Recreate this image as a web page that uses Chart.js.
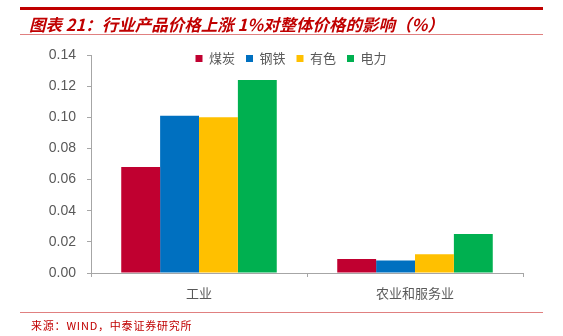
<!DOCTYPE html>
<html>
<head>
<meta charset="utf-8">
<script src="https://cdn.jsdelivr.net/npm/chart.js@4"></script>
<style>
body { margin: 0; background: #fff; }
#wrap { position: relative; width: 563px; height: 336px; overflow: hidden; }
#chart { position: absolute; left: 0; top: 0; }
.topline { position: absolute; left: 20px; width: 523px; top: 7px; height: 3px; background: #C00000; }
.thin { position: absolute; left: 20px; width: 523px; height: 1px; background: #E08080; }
#title { position: absolute; left: 29px; top: 12px; font: italic bold 16.5px "Noto Sans CJK SC", sans-serif; color: #C00000; white-space: nowrap; }
#source { position: absolute; left: 31px; top: 317px; font: 11px "Noto Sans CJK SC", monospace; color: #C00000; white-space: nowrap; letter-spacing: 0.8px; }
</style>
</head>
<body>
<div id="wrap">
  <canvas id="chart" width="563" height="336"></canvas>
  <div class="topline"></div>
  <div id="title">图表 21：行业产品价格上涨 1%对整体价格的影响（%）</div>
  <div class="thin" style="top:34px"></div>
  <div class="thin" style="top:312px"></div>
  <div id="source">来源：WIND，中泰证券研究所</div>
</div>
<script>
// categories and series
let categories = ['工业', '农业和服务业'];
let coal = [0.068, 0.009];
let steel = [0.101, 0.008];
let metals = [0.100, 0.012];
let power = [0.124, 0.025];
let seriesNames = ['煤炭', '钢铁', '有色', '电力'];
let seriesColors = ['#C00030', '#0070C0', '#FFC000', '#00B050'];

let allData = [coal, steel, metals, power];
let datasets = [];
allData.forEach((d, i) => {
    datasets.push({
        label: seriesNames[i],
        data: d,
        backgroundColor: seriesColors[i],
        borderWidth: 0,
        barPercentage: 1,
        categoryPercentage: 0.72
    });
});

// legend sits over the top of the plot: reserve little room for it in layout,
// then give it back its real height (and nudge it right) before drawing
const legendFix = {
    id: 'legendFix',
    afterInit(chart) {
        const lg = chart.legend;
        const f = lg.fit;
        lg.fit = function () {
            f.call(this);
            this._realHeight = this.height;
            this.height = 14;
        };
    },
    afterLayout(chart) {
        const lg = chart.legend;
        lg.height = lg._realHeight;
        lg.bottom = lg.top + lg.height;
        lg.left += 7;
        lg.right += 7;
    }
};

var ctx = document.getElementById('chart').getContext('2d');
var mychart = new Chart(ctx, {
    type: 'bar',
    data: { labels: categories, datasets: datasets },
    plugins: [legendFix],
    options: {
        responsive: false,
        animation: false,
        layout: { padding: { left: 45, right: 40, top: 41, bottom: 34 } },
        plugins: {
            legend: {
                position: 'top',
                align: 'center',
                labels: {
                    boxWidth: 7,
                    boxHeight: 7,
                    padding: 11,
                    color: '#595959',
                    font: { family: 'Noto Sans CJK SC', size: 13 }
                }
            },
            tooltip: { enabled: false }
        },
        scales: {
            x: {
                offset: true,
                grid: { offset: true, drawOnChartArea: false, tickLength: 4, color: '#A6A6A6' },
                border: { color: '#A6A6A6', width: 1 },
                ticks: { color: '#595959', padding: 8, font: { family: 'Noto Sans CJK SC', size: 13 } },
                afterFit: s => { s.height = 29; }
            },
            y: {
                min: 0,
                max: 0.14,
                ticks: {
                    stepSize: 0.02,
                    color: '#595959',
                    padding: 11,
                    font: { family: 'Liberation Sans', size: 14 },
                    callback: v => v.toFixed(2)
                },
                grid: { drawOnChartArea: false, tickLength: 4, color: '#A6A6A6' },
                border: { color: '#A6A6A6', width: 1 },
                afterFit: s => { s.width = 46; }
            }
        }
    }
});
</script>
</body>
</html>
